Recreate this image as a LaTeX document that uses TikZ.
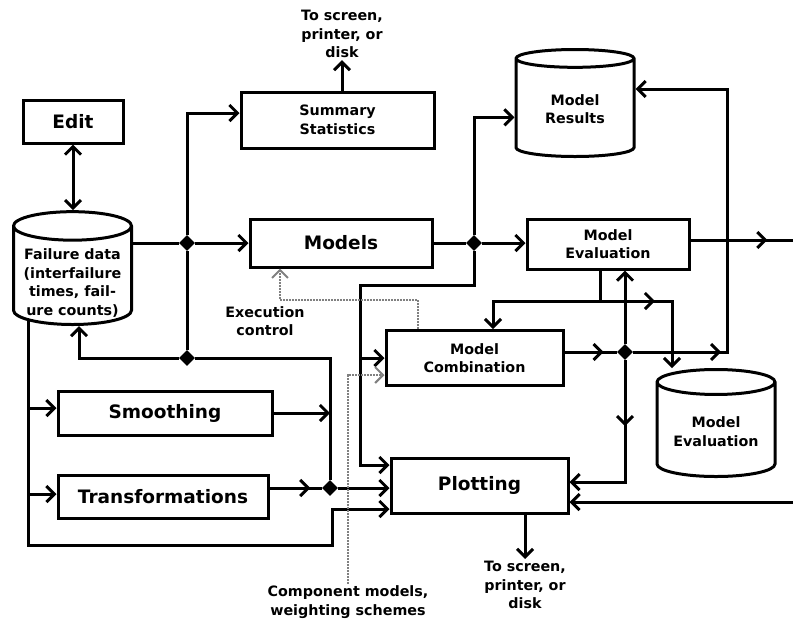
\documentclass[tikz,border=0pt]{standalone}
\usepackage{fontspec}
\setmainfont{DejaVu Sans}
\usetikzlibrary{positioning}
\usetikzlibrary{arrows.meta}
\usetikzlibrary{shapes.geometric}
\usetikzlibrary{decorations.markings}
\newcommand\smallbold{\fontsize{14.3}{18.5}\selectfont\bfseries}
\newcommand\bigbold{\fontsize{18.5}{22}\selectfont\bfseries}
\tikzset{
  % A processing step
  procbox/.style={
    draw, line width=3pt, fill=white, align=center,
    font=\smallbold, inner sep=2pt},
  bigbox/.style={procbox, font=\bigbold},
  % A data store
  store/.style={
    cylinder, shape border rotate=90, aspect=0.28, draw, line width=3pt,
    fill=white, align=center, font=\smallbold, inner sep=2pt,
    minimum width=118pt, minimum height=107pt, anchor=south},
  % Junctions and free texts
  junc/.style={diamond, fill=black, inner sep=0pt, minimum size=16pt},
  note/.style={align=center, font=\smallbold, inner sep=2pt},
  % Connections
  wire/.style={line width=3pt},
  flow/.style={wire, -{Straight Barb[length=8pt,width=16pt]}},
  both/.style={wire, {Straight Barb[length=8pt,width=16pt]}-{Straight Barb[length=8pt,width=16pt]}},
  midarrow/.style={postaction={decorate}, decoration={markings,
    mark=at position #1 with {\arrow{Straight Barb[length=8pt,width=16pt]}}}},
  ctrl/.style={draw=black!50, line width=2pt, densely dotted,
    -{Straight Barb[length=8pt,width=16pt]}},
}
\begin{document}
\begin{tikzpicture}[x=1pt,y=-1pt]
\useasboundingbox (0,0) rectangle (793,622);

% data stores
\node[store] (fdata) at (72.5,326) {\phantom{Failure data}\\\phantom{(interfailure}\\\phantom{times, fail-}\\\phantom{ure counts)}};
\node[note] (fdtext) at ([yshift=-5pt]fdata.center) {Failure data\\(interfailure\\times, fail-\\ure counts)};
\node[store] (mres) at (575,158) {Model\\Results};
\node[store] (mevdb) at (716,478) {Model\\Evaluation};

% processing steps
\node[bigbox, minimum width=100pt, minimum height=43pt] (edit) at (73,121.5) {Edit};
\node[procbox, minimum width=193pt, minimum height=56pt] (summ) at (337.5,120) {Summary\\Statistics};
\node[bigbox, minimum width=182pt, minimum height=48pt] (models) at (341,243) {Models};
\node[procbox, minimum width=162pt, minimum height=50pt] (meval) at (608,244) {Model\\Evaluation};
\node[procbox, minimum width=177pt, minimum height=55pt] (mcomb) at (474.5,358) {Model\\Combination};
\node[bigbox, minimum width=214pt, minimum height=44pt] (smooth) at (165,413) {Smoothing};
\node[bigbox, minimum width=210pt, minimum height=43pt] (trans) at (163,496.5) {Transformations};
\node[bigbox, minimum width=177pt, minimum height=55pt] (plot) at (479.5,485.5) {Plotting};

% junctions
\node[junc] (j1) at (187,243) {};
\node[junc] (j2) at (187,358) {};
\node[junc] (j3) at (474,243) {};
\node[junc] (j4) at (625,352) {};
\node[junc] (j5) at (330,488) {};

% free texts
\node[note] (out1) at (342,34) {To screen,\\printer, or\\disk};
\node[note] (out2) at (525,585) {To screen,\\printer, or\\disk};
\node[note] (exec) at (265,321) {Execution\\control};
\node[note] (comp) at (348,602) {Component models,\\weighting schemes};

% helper points
\coordinate (rim) at (793,0);
\coordinate (bus) at ([xshift=-44.5pt,yshift=7pt]fdata.south);
\coordinate (k) at (360,285);
\coordinate (rb) at (727,89);
\coordinate (eb) at (600,301);
\coordinate (ec) at (280,300);

% failure data side
\draw[both] (edit.south) -- (edit.south |- fdata.north);
\draw[flow] (fdata.east |- j1) -- (j1) -- (models.west);
\draw[flow] (j2) -- (j1) |- ([yshift=7pt]summ.west);
\draw[flow] (j2) -| ([xshift=6.5pt]fdata.south);
\draw[wire] (j2) -| (j5);
\draw[flow] (bus |- 0,408) -- (smooth.west |- 0,408);
\draw[flow] (bus |- 0,494) -- (trans.west |- 0,494);
\draw[flow] (bus) |- (332,545) |- ([yshift=-23.5pt]plot.west);
\draw[flow] (smooth.east) -- (smooth.east -| j5);
\draw[wire, midarrow=0.78] (trans.east |- j5) -- (j5);
\draw[flow] (j5) -- (j5 -| plot.west);
\draw[flow] (summ.north -| out1) -- (out1.south);

% models side
\draw[wire] (models.east) -- (j3);
\draw[flow] (j3) -- (meval.west |- j3);
\draw[flow] (j3) |- ([yshift=-8pt]mres.west);
\draw[flow] (j3) |- (k) |- ([yshift=20.5pt]plot.west);
\draw[flow] (k |- mcomb.west) -- (mcomb.west);
\draw[wire, midarrow=0.75] ([yshift=4pt]meval.east) -- ([yshift=4pt]meval.east -| rim);
\draw[wire, midarrow=0.75] ([yshift=6pt]mcomb.east) -- (j4);
\draw[flow, midarrow=88pt] (j4) -| (rb) -- (rb -| mres.east);
\draw[flow] (j4) -- (j4 |- meval.south);
\draw[flow, midarrow=66pt] (j4) |- ([yshift=3.5pt]plot.east);
\draw[wire] ([xshift=-8pt]meval.south) -- (eb);
\draw[flow] (eb) -| ([xshift=18.5pt]mcomb.north);
\draw[flow, midarrow=55pt] (eb) -| ([xshift=-44pt]mevdb.north);
\draw[flow] ([yshift=-16.5pt]plot.east -| rim) -- ([yshift=-16.5pt]plot.east);
\draw[flow] (plot.south -| out2) -- (out2.north);

% control flows
\draw[ctrl] ([xshift=-56.5pt]mcomb.north) |- (ec) -- (ec |- models.south);
\draw[ctrl] (comp.north) |- ([yshift=-17pt]mcomb.west);

\end{tikzpicture}
\end{document}
